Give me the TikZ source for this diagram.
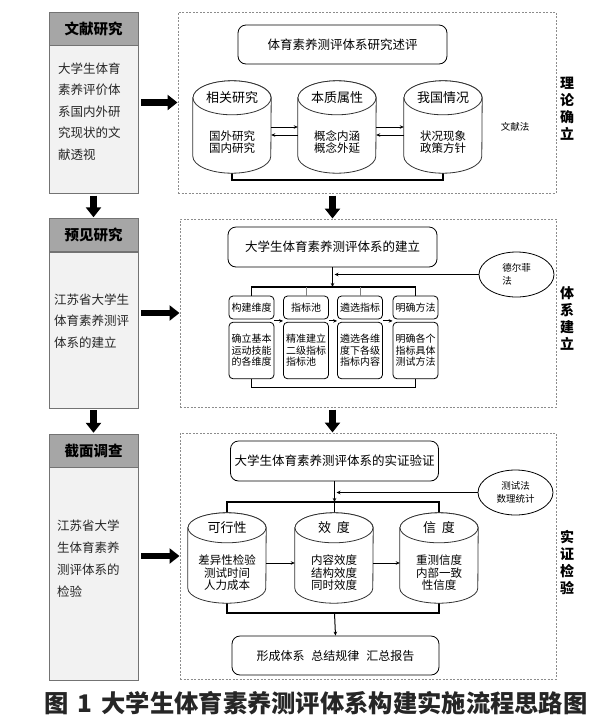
\documentclass[tikz,border=0pt]{standalone}
\usepackage{fontspec}
\setmainfont{Noto Sans CJK SC}
\usetikzlibrary{arrows.meta,shapes.geometric}
\definecolor{headgray}{RGB}{166,166,166}
\definecolor{bodygray}{RGB}{242,242,242}
\definecolor{boxgray}{RGB}{115,115,115}
\definecolor{dashgray}{RGB}{140,140,140}

\newcommand{\fs}[2]{\fontsize{#1}{#2}\selectfont}

\tikzset{
  head/.style={draw=boxgray, fill=headgray, minimum width=89, minimum height=33, inner sep=0, font=\bfseries\fs{14.5}{15}},
  body/.style={draw=boxgray, fill=bodygray, minimum width=89, inner sep=0, anchor=north},
  bodytext/.style={anchor=north west, align=left, inner sep=0, text=black!85},
  zone/.style={draw=dashgray, dash pattern=on 2pt off 1.5pt, line width=1},
  fat/.style={line width=6.5, -{Triangle[length=10pt,width=15pt]}},
  titlebox/.style={draw, line width=0.8, rounded corners=8, inner sep=0},
  drumline/.style={draw=black!80, line width=0.8, fill=white},
  bar/.style={line width=1.5},
  link/.style={line width=1, -{Stealth[length=4pt,width=3.5pt]}},
  method/.style={ellipse, draw, line width=0.8, minimum width=75, minimum height=45, inner sep=0, font=\fs{9.5}{13}},
  hbox/.style={draw, line width=0.8, rounded corners=4, minimum width=45, minimum height=23, inner sep=0, font=\fs{10}{11}},
  tbox/.style={draw, line width=0.8, rounded corners=4, minimum width=45, minimum height=56.5, inner sep=0, align=left, font=\fs{10}{11.5}},
  stage/.style={font=\bfseries\fs{14}{17}, align=center, inner sep=0},
}

% drum: name, x, y, height, y radius, title, text
\newcommand{\drum}[7]{%
  \node[minimum width=78, minimum height=#4, inner sep=0] (#1) at (#2,#3) {};
  \draw[drumline] ([yshift=-#5]#1.north west) -- ([yshift=#5]#1.south west)
    arc[start angle=180, end angle=360, x radius=39, y radius=#5]
    -- ([yshift=-#5]#1.north east)
    arc[start angle=0, end angle=180, x radius=39, y radius=#5] -- cycle;
  \draw[drumline] ([yshift=-#5]#1.north) ellipse[x radius=39, y radius=#5];
  \node[font=\fs{13}{14}] (#1-t) at ([yshift=-#5]#1.north) {#6};
  \node[align=center, font=\fs{11.5}{12.5}] (#1-b) at ([yshift=-15]#1.center) {#7};
}

\begin{document}
\begin{tikzpicture}[x=1pt, y=1pt]
\useasboundingbox (0,0) rectangle (601,-724);

% left column
\node[head] (h1) at (93.5,-28.5) {文献研究};
\node[body, minimum height=148] (b1) at (h1.south) {};
\node[bodytext, font=\fs{12.5}{21.5}] (t1) at (58,-62.5) {大学生体育\\素养评价体\\系国内外研\\究现状的文\\献透视};
\node[head] (h2) at (93.5,-235) {预见研究};
\node[body, minimum height=156] (b2) at (h2.south) {};
\node[bodytext, font=\fs{12.5}{21.5}] (t2) at (54,-293.5) {江苏省大学生\\体育素养测评\\体系的建立};
\node[head] (h3) at (93.5,-450.5) {截面调查};
\node[body, minimum height=213] (b3) at (h3.south) {};
\node[bodytext, font=\fs{12.5}{22}] (t3) at (57,-519.5) {江苏省大学\\生体育素养\\测评体系的\\检验};

% dashed zones
\node[zone, minimum width=378, minimum height=181] (f1) at (367,-102.5) {};
\node[zone, minimum width=376, minimum height=188] (f2) at (368,-313) {};
\node[zone, minimum width=376, minimum height=246] (f3) at (368,-556) {};
\node[stage] (s1) at (567,-108.5) {理\\论\\确\\立};
\node[stage] (s2) at (567,-318) {体\\系\\建\\立};
\node[stage] (s3) at (567,-563) {实\\证\\检\\验};

% zone 1
\node[titlebox, minimum width=209, minimum height=39, font=\fs{12.5}{14}] (ft1) at (342.5,-44.5) {体育素养测评体系研究述评};
\draw[bar] (232,-173) -- (232,-180) -| (443,-173);
\drum{r1}{232}{-127}{92}{17}{相关研究}{国外研究\\国内研究}
\drum{r2}{337}{-127}{92}{17}{本质属性}{概念内涵\\概念外延}
\drum{r3}{443}{-127}{92}{17}{我国情况}{状况现象\\政策方针}
\draw[link] (r1.east) -- (r2.west);
\draw[link] ([yshift=-8]r2.west) -- ([yshift=-8]r1.east);
\draw[link] (r2.east) -- (r3.west);
\draw[link] ([yshift=-8]r3.west) -- ([yshift=-8]r2.east);
\node[font=\fs{9.5}{10}] (m1) at (515,-127) {文献法};

% zone 2
\node[titlebox, minimum width=209, minimum height=40, font=\fs{12.5}{14}] (ft2) at (332.5,-247) {大学生体育素养测评体系的建立};
\node[method, align=left] (m2) at (516.5,-274.5) {德尔菲\\法};
\coordinate (j2) at (332.5,-287);
\coordinate (p2) at (334.5,-274.5);
\draw[link] (ft2.south) -- (j2);
\draw[link, line width=0.8] (m2.west) -- (p2);
\node[hbox] (hA) at (251.5,-307.5) {构建维度};
\node[tbox] (bA) at (251.5,-350.5) {确立基本\\运动技能\\的各维度};
\node[hbox] (hB) at (306,-307.5) {指标池};
\node[tbox] (bB) at (306,-350.5) {精准建立\\二级指标\\指标池};
\node[hbox] (hC) at (360,-307.5) {遴选指标};
\node[tbox] (bC) at (360,-350.5) {遴选各维\\度下各级\\指标内容};
\node[hbox] (hD) at (415.5,-307.5) {明确方法};
\node[tbox] (bD) at (415.5,-350.5) {明确各个\\指标具体\\测试方法};
\draw[bar] (hA.north) -- (hA.north |- j2) -- (hD.north |- j2) -- (hD.north);
\draw[line width=0.8, gray] (hB.north) -- (hB.north |- j2);
\draw[line width=0.8, gray] (hC.north) -- (hC.north |- j2);
\draw[link] ([yshift=-1.5]hA.south east) -- ([yshift=-1.5]hB.south west);
\draw[link] ([yshift=-1.5]hB.south east) -- ([yshift=-1.5]hC.south west);
\draw[link] ([yshift=-1.5]hC.south east) -- ([yshift=-1.5]hD.south west);
\draw[bar] (bA.south) -- ++(0,-8.5) -| (bD.south);

% zone 3
\node[titlebox, minimum width=208, minimum height=40, font=\fs{12.5}{14}] (ft3) at (334.5,-461) {大学生体育素养测评体系的实证验证};
\node[method, align=center] (m3) at (515.5,-492.5) {测试法\\数理统计};
\coordinate (j3) at (334.5,-502);
\coordinate (k3) at (334.5,-613);
\coordinate (p3) at (336.5,-492.5);
\draw[link] (ft3.south) -- (j3);
\draw[link, line width=0.8] (m3.west) -- (p3);
\draw[bar] (227,-502) rectangle (439,-613);
\draw[bar] (j3) -- (334.5,-520);
\drum{v1}{227}{-558}{90}{15}{可行性}{差异性检验\\测试时间\\人力成本}
\drum{v2}{334}{-558}{90}{15}{效\hspace{6pt}度}{内容效度\\结构效度\\同时效度}
\drum{v3}{439}{-558}{90}{15}{信\hspace{6pt}度}{重测信度\\内部一致\\性信度}
\draw[link] ([yshift=-5]v1.east) -- ([yshift=-5]v2.west);
\draw[link] ([yshift=-5]v2.east) -- ([yshift=-5]v3.west);
\node[titlebox, minimum width=207, minimum height=39, font=\fs{12}{14}] (res) at (335.5,-655.5) {形成体系\hspace{7pt}总结规律\hspace{7pt}汇总报告};
\draw[link] (k3) -- (res.north);

% fat arrows
\draw[fat, shorten <=3pt] (b1.east |- f1.west) -- (f1.west);
\draw[fat, shorten <=3pt] (b2.east |- f2.west) -- (f2.west);
\draw[fat, shorten <=3pt] (b3.east |- f3.west) -- (f3.west);
\draw[fat, shorten <=2pt, shorten >=1pt] (b1.south) -- (h2.north);
\draw[fat, shorten <=2pt, shorten >=1pt] (b2.south) -- (h3.north);
\draw[fat, shorten <=2pt] (ft2.north |- f1.south) -- (ft2.north |- f2.north);
\draw[fat, shorten <=2pt] (ft2.north |- f2.south) -- (ft2.north |- f3.north);

\node[font=\bfseries\fs{24.3}{26}, text=black!85] (cap) at (316,-703) {图\hspace{9pt}1\hspace{9pt}大学生体育素养测评体系构建实施流程思路图};
\end{tikzpicture}
\end{document}
